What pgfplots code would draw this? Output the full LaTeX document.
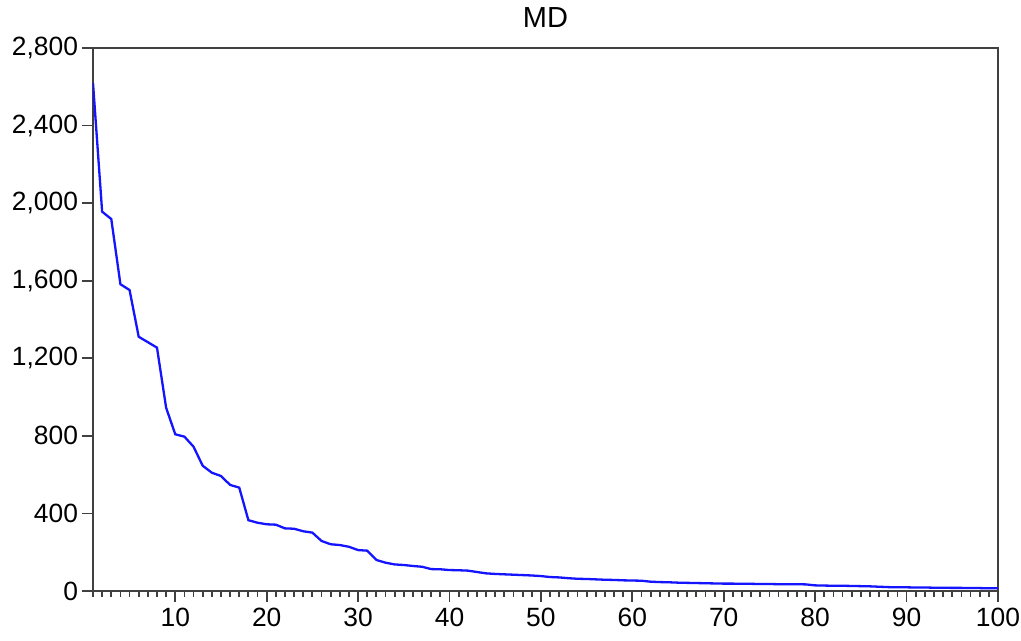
\documentclass[border=0pt]{standalone}
\usepackage{fontspec}
\setmainfont{Liberation Sans}
\usepackage{pgfplots}
\pgfplotsset{compat=1.18}
\definecolor{frame}{RGB}{64,64,64}
\definecolor{mdblue}{RGB}{20,20,255}

\begin{document}
\begin{tikzpicture}
\useasboundingbox (-46.5bp,-25bp) rectangle (464bp,295.5bp);
\begin{axis}[
    scale only axis,
    width=452.5bp, height=271.5bp,
    xmin=1, xmax=100, ymin=0, ymax=2800,
    xtick={10,20,...,100},
    minor xtick={1,...,100},
    ytick={0,400,...,2800},
    xtick pos=bottom, ytick pos=left,
    tick align=outside,
    major tick length=5.5bp, minor tick length=2.8bp,
    every tick/.style={frame, line width=0.9bp},
    axis line style={frame, line width=1bp},
    /pgf/number format/assume math mode=true,
    /pgf/number format/1000 sep={,},
    ticklabel style={font=\fontsize{13.2bp}{15bp}\selectfont},
    yticklabel style={xshift=1.5bp},
    xticklabel style={yshift=0.5bp},
]
\addplot[mdblue, line width=1.15bp] coordinates {
(1,2620) (2,1956) (3,1918) (4,1582) (5,1552) (6,1311) (7,1283) (8,1255) (9,945) (10,808)
(11,796) (12,744) (13,646) (14,610) (15,593) (16,547) (17,533) (18,365) (19,352) (20,344)
(21,342) (22,323) (23,321) (24,308) (25,301) (26,258) (27,241) (28,237) (29,228) (30,211)
(31,208) (32,160) (33,146) (34,137) (35,134) (36,129) (37,125) (38,113) (39,112) (40,108)
(41,107) (42,105) (43,98) (44,91) (45,88) (46,86) (47,84) (48,82) (49,80) (50,77)
(51,72) (52,70) (53,66) (54,63) (55,62) (56,60) (57,58) (58,57) (59,55) (60,54)
(61,53) (62,48) (63,46) (64,45) (65,43) (66,42) (67,41) (68,40) (69,39) (70,38)
(71,38) (72,37) (73,37) (74,36) (75,36) (76,35) (77,35) (78,35) (79,34) (80,29)
(81,28) (82,27) (83,27) (84,26) (85,25) (86,24) (87,22) (88,20) (89,19) (90,19)
(91,18) (92,18) (93,17) (94,17) (95,16) (96,16) (97,15) (98,15) (99,14) (100,14)
};
\end{axis}
\node[anchor=base, font=\fontsize{14.5bp}{16bp}\selectfont] at (226.25bp,281.5bp) {MD};
\end{tikzpicture}
\end{document}
